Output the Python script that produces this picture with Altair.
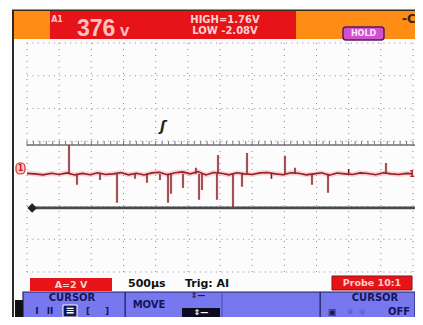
import altair as alt
import pandas as pd

# ---------------- data ----------------
grid_t = [0, 500, 1000, 1500, 2000, 2500, 3000, 3500, 4000, 4500, 5000, 5500, 6000]   # µs, 500 µs/div
grid_v = [-6, -4, -2, 0, 2, 4, 6, 8]                                                    # V, 2 V/div
cursor_high = 1.76
cursor_low = -2.08

base_t = [0, 120, 250, 380, 500, 620, 740, 860, 980, 1100, 1220, 1340, 1460, 1580, 1700,
          1820, 1940, 2060, 2180, 2300, 2420, 2540, 2660, 2780, 2900, 3020, 3140, 3260, 3380,
          3500, 3620, 3740, 3860, 3980, 4100, 4220, 4340, 4460, 4580, 4700, 4820, 4940, 5060,
          5180, 5300, 5420, 5540, 5660, 5780, 5900, 6000]
base_v = [0.03, 0.0, -0.06, 0.04, -0.04, 0.06, -0.07, 0.03, -0.05, 0.07, -0.04, 0.0, 0.08,
          -0.06, 0.04, -0.07, 0.06, 0.1, -0.05, 0.07, 0.12, 0.0, 0.14, -0.07, 0.08, 0.04, -0.06,
          0.07, 0.0, -0.04, 0.06, 0.08, 0.0, -0.05, 0.07, 0.04, -0.06, 0.0, 0.07, -0.08, 0.05,
          0.0, -0.04, 0.06, 0.02, -0.05, 0.07, 0.0, -0.04, 0.03, 0.0]

spike_t = [653, 777, 1135, 1399, 1679, 1865, 2067, 2192, 2238, 2425, 2627, 2674, 2720,
           2953, 2969, 3202, 3342, 3420, 3800, 4010, 4166, 4430, 4679, 5000, 5580]
spike_v = [1.76, -0.67, -0.37, -1.77, -0.3, -0.55, -0.37, -1.77, -1.22, -0.86, 0.37, -1.59,
           -0.98, -1.59, 1.16, -2.08, -0.79, 1.28, -0.3, 1.10, 0.37, -0.67, -1.16, 0.3, 0.67]

trigger_t = [2114]
trigger_v = [2.87]

# ---------------- scales ----------------
xs = alt.Scale(domain=[-295.3, 6031.1], nice=False, zero=False)
ys = alt.Scale(domain=[-8.751, 10.14], nice=False, zero=False)
UI = "'DejaVu Sans', sans-serif"
BIG = "'Liberation Sans', Arial, sans-serif"
one = pd.DataFrame({"k": [0]})


def rect(x1, y1, x2, y2, fill, **kw):
    return alt.Chart(one).mark_rect(fill=fill, **kw).encode(
        x=alt.value(x1), x2=alt.value(x2), y=alt.value(y1), y2=alt.value(y2))


def txt(s, x, y, size, color, align="center", weight="bold", font=UI, baseline="middle"):
    return alt.Chart(one).mark_text(text=s, fontSize=size, color=color, align=align,
                                    baseline=baseline, fontWeight=weight, font=font).encode(
        x=alt.value(x), y=alt.value(y))


# ---------------- graticule ----------------
vgrid = alt.Chart(pd.DataFrame({"t": grid_t, "lo": min(grid_v), "hi": max(grid_v)})).mark_rule(
    color="#8588a8", strokeWidth=1, strokeDash=[1, 5]).encode(
    x=alt.X("t:Q", scale=xs, axis=None), y=alt.Y("lo:Q", scale=ys, axis=None), y2="hi:Q")
hgrid = alt.Chart(pd.DataFrame({"v": grid_v, "t0": grid_t[0], "t1": grid_t[-1]})).mark_rule(
    color="#8588a8", strokeWidth=1, strokeDash=[1, 4.4]).encode(
    x=alt.X("t0:Q", scale=xs, axis=None), x2="t1:Q", y=alt.Y("v:Q", scale=ys, axis=None))

# ---------------- cursors ----------------
hi_line = alt.Chart(pd.DataFrame({"t0": [grid_t[0]], "t1": [grid_t[-1] + 30], "v": [cursor_high]})).mark_rule(
    color="#6e6e74", strokeWidth=1.6).encode(
    x=alt.X("t0:Q", scale=xs, axis=None), x2="t1:Q", y=alt.Y("v:Q", scale=ys, axis=None))
tick_pos = list(range(0, 6001, 100))
hi_ticks = alt.Chart(pd.DataFrame({"t": tick_pos, "a": cursor_high, "b": cursor_high + 0.25})).mark_rule(
    color="#7a7a80", strokeWidth=1).encode(
    x=alt.X("t:Q", scale=xs, axis=None), y=alt.Y("a:Q", scale=ys, axis=None), y2="b:Q")
lo_line = alt.Chart(pd.DataFrame({"t0": [50], "t1": [grid_t[-1] + 30], "v": [cursor_low]})).mark_rule(
    color="#4a4a4e", strokeWidth=2.6).encode(
    x=alt.X("t0:Q", scale=xs, axis=None), x2="t1:Q", y=alt.Y("v:Q", scale=ys, axis=None))
lo_mark = alt.Chart(pd.DataFrame({"t": [80], "v": [cursor_low]})).mark_point(
    shape="diamond", filled=True, color="#222222", size=90, opacity=1).encode(
    x=alt.X("t:Q", scale=xs, axis=None), y=alt.Y("v:Q", scale=ys, axis=None))

# ---------------- trace ----------------
trace_df = pd.DataFrame({"t": base_t, "v": base_v})
spike_df = pd.DataFrame({"t": spike_t, "v": spike_v, "z": 0.0})
halo = alt.Chart(trace_df).mark_line(color="#f3a3ab", strokeWidth=5, opacity=0.45).encode(
    x=alt.X("t:Q", scale=xs, axis=None), y=alt.Y("v:Q", scale=ys, axis=None))
spike_halo = alt.Chart(spike_df).mark_rule(color="#f0a0a8", strokeWidth=3, opacity=0.4).encode(
    x=alt.X("t:Q", scale=xs, axis=None), y=alt.Y("z:Q", scale=ys, axis=None), y2="v:Q")
spikes = alt.Chart(spike_df).mark_rule(color="#7e1a20", strokeWidth=1.4).encode(
    x=alt.X("t:Q", scale=xs, axis=None), y=alt.Y("z:Q", scale=ys, axis=None), y2="v:Q")
trace = alt.Chart(trace_df).mark_line(color="#9a1e28", strokeWidth=1.6).encode(
    x=alt.X("t:Q", scale=xs, axis=None), y=alt.Y("v:Q", scale=ys, axis=None))

trig = alt.Chart(pd.DataFrame({"t": trigger_t, "v": trigger_v})).mark_text(
    text="ʃ", fontSize=14, fontWeight="bold", fontStyle="italic", color="#222", font=UI).encode(
    x=alt.X("t:Q", scale=xs, axis=None), y=alt.Y("v:Q", scale=ys, axis=None))

# channel markers
ch_pt = rect(8, 155, 17, 166, "#f7c9cc", stroke="#d03030", strokeWidth=1.2, cornerRadius=4)
ch_txt = txt("1", 12.5, 160.5, 8, "#c02020")
ch_r = txt("1", 404, 167, 8, "#c02020")

# ---------------- header ----------------
header = [
    rect(6, 2, 407, 31, "#ff8c14"),
    rect(4, 1.5, 407, 3, "#3b2b1b"),
    rect(42, 3, 288, 31, "#e61419"),
    txt("A1", 49, 12, 8, "#ffc8c8"),
    txt("376", 69, 27.5, 23, "#ffc0c0", align="left", weight="bold", font=BIG, baseline="alphabetic"),
    txt("V", 112, 27.5, 12, "#ffc0c0", align="left", baseline="alphabetic"),
    txt("HIGH=1.76V", 217, 12, 10, "#ffd0d0"),
    txt("LOW -2.08V", 217, 23, 10, "#ffd0d0"),
    rect(335, 19, 376, 32, "#d050d0", stroke="#5a1a5a", strokeWidth=1.5, cornerRadius=3),
    txt("HOLD", 355.5, 25.5, 8, "#ffe6ff"),
    txt("-C", 401, 11, 12, "#3a2010"),
]

# ---------------- footer ----------------
NAVY = "#14145a"
footer = [
    rect(4, 2, 6, 309, "#2a2a2a"),
    rect(22, 270, 104, 283, "#e61419"),
    txt("A=2 V", 63, 276.5, 9.5, "#ffd0d0"),
    txt("500µs", 120, 276, 11, "#111111", align="left"),
    txt("Trig: AI", 177, 276, 11, "#111111", align="left"),
    rect(324, 268, 404, 282, "#e61419", stroke="#8a1010", strokeWidth=1),
    txt("Probe 10:1", 364, 275, 9.5, "#ffd0d0"),
    rect(15, 284, 407, 315, "#7878ee", stroke="#202060", strokeWidth=1.2),
    rect(7, 292, 15, 315, "#111111"),
    rect(116.5, 284, 117.8, 315, "#202060"),
    rect(213.5, 284, 214.5, 315, "#4a4aa8"),
    rect(311.5, 284, 312.8, 315, "#202060"),
    txt("CURSOR", 64, 290, 10, NAVY),
    txt("I", 29, 303, 9, NAVY),
    txt("II", 42, 303, 9, NAVY),
    rect(55, 297, 69, 309, NAVY, stroke="#ffffff", strokeWidth=1),
    txt("≡", 62, 303, 11, "#ffffff"),
    txt("[", 80, 303, 9, NAVY),
    txt("]", 99, 303, 9, NAVY),
    txt("MOVE", 141, 297, 10, NAVY),
    txt("⇕—", 190, 288, 8, NAVY),
    rect(174, 300, 212, 315, "#0c0c20"),
    txt("⇕—", 193, 305, 8, "#ffffff"),
    txt("CURSOR", 367, 290, 10, NAVY),
    txt("▣", 324, 304, 9, NAVY),
    txt("☼", 342, 304, 9, "#3a3ad0"),
    txt("☼", 354, 304, 9, "#3a3ad0"),
    txt("OFF", 380, 304, 10, NAVY, align="left"),
]

layers = [vgrid, hgrid, hi_ticks, hi_line, lo_line, lo_mark,
          halo, spike_halo, spikes, trace, trig, ch_pt, ch_txt, ch_r] + header + footer

chart = alt.layer(*layers).properties(
    width=407, height=309, padding=0, autosize="none", background="#fcfcfc"
).configure_view(stroke=None)

chart.save("out.html", embed_options={"renderer": "svg", "actions": False})
